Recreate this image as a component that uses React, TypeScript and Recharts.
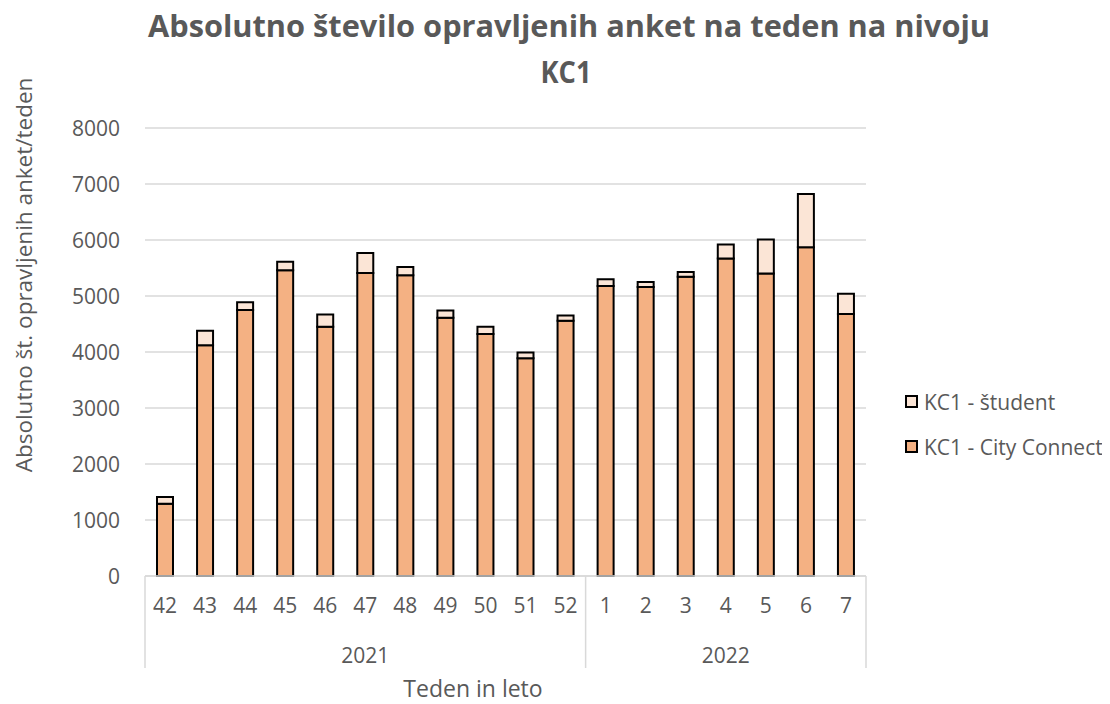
import React from 'react';
import { BarChart, Bar, XAxis, YAxis, CartesianGrid, Legend } from 'recharts';

const weeks = ['42', '43', '44', '45', '46', '47', '48', '49', '50', '51', '52', '1', '2', '3', '4', '5', '6', '7'];
const years = ['2021', '2021', '2021', '2021', '2021', '2021', '2021', '2021', '2021', '2021', '2021', '2022', '2022', '2022', '2022', '2022', '2022', '2022'];
const cityConnect = [1290, 4120, 4750, 5460, 4450, 5410, 5370, 4610, 4320, 3890, 4560, 5180, 5160, 5345, 5670, 5400, 5870, 4680];
const student = [120, 260, 140, 150, 220, 360, 150, 130, 130, 100, 90, 120, 90, 85, 250, 610, 950, 360];
const yTicks = [0, 1000, 2000, 3000, 4000, 5000, 6000, 7000, 8000];
const titleLines = ['Absolutno število opravljenih anket na teden na nivoju', 'KC1'];

const data = weeks.map((w, i) => ({ week: w, year: years[i], city: cityConnect[i], student: student[i] }));

const CHART_W = 1100;
const CHART_H = 700;
const MARGIN = { top: 120, right: 22, bottom: 0, left: 0 };
const Y_AXIS_W = 137;
const LEGEND_W = 220;
const PLOT_W = CHART_W - MARGIN.left - MARGIN.right - Y_AXIS_W - LEGEND_W;
const BAND = PLOT_W / weeks.length;
const TEXT = '#595959';
const FONT = '"Open Sans", "DejaVu Sans", sans-serif';
const GRID = '#d9d9d9';

function WeekTick(props: any) {
  const { x, y, payload, index } = props;
  const half = BAND / 2;
  const els: any[] = [];
  els.push(
    <text key="w" x={x} y={y + 37} textAnchor="middle" fill={TEXT} fontSize={21} fontFamily={FONT}>
      {payload.value}
    </text>
  );
  if (index === 0) {
    els.push(<line key="l0" x1={x - half} x2={x - half} y1={y} y2={y + 92} stroke={GRID} strokeWidth={1.5} />);
  }
  if (index === weeks.length - 1 || years[index + 1] !== years[index]) {
    els.push(<line key="l1" x1={x + half} x2={x + half} y1={y} y2={y + 92} stroke={GRID} strokeWidth={1.5} />);
  }
  if (index === 0 || years[index - 1] !== years[index]) {
    let end = index;
    while (end + 1 < years.length && years[end + 1] === years[index]) end++;
    const cx = x + ((end - index) / 2) * BAND;
    els.push(
      <text key="y" x={cx} y={y + 87} textAnchor="middle" fill={TEXT} fontSize={21} fontFamily={FONT}>
        {years[index]}
      </text>
    );
  }
  return <g>{els}</g>;
}

function YTick(props: any) {
  const { x, y, payload } = props;
  return (
    <text x={x - 23} y={y + 7.5} textAnchor="end" fill={TEXT} fontSize={21} fontFamily={FONT}>
      {payload.value}
    </text>
  );
}

function YLabel() {
  return (
    <text
      x={0}
      y={0}
      transform={`translate(15, 267) rotate(-90)`}
      textAnchor="middle"
      dominantBaseline="central"
      fill={TEXT}
      fontSize={22.5}
      fontFamily={FONT}
    >
      Absolutno št. opravljenih anket/teden
    </text>
  );
}

function XLabel() {
  return (
    <text x={465} y={689} textAnchor="middle" fill={TEXT} fontSize={23} fontFamily={FONT}>
      Teden in leto
    </text>
  );
}

const legendItems = [
  { label: 'KC1 - študent', fill: '#FBE5D6' },
  { label: 'KC1 - City Connect', fill: '#F4B183' },
];

function LegendContent() {
  return (
    <div style={{ paddingLeft: 39 }}>
      {legendItems.map((it) => (
        <div key={it.label} style={{ display: 'flex', alignItems: 'center', height: 45, fontFamily: FONT, fontSize: 21, color: TEXT, whiteSpace: 'nowrap' }}>
          <span style={{ display: 'inline-block', flexShrink: 0, boxSizing: 'border-box', width: 13, height: 13, background: it.fill, border: '2px solid #000', marginRight: 6 }} />
          <span style={{ flexShrink: 0 }}>{it.label}</span>
        </div>
      ))}
    </div>
  );
}

export default function App() {
  return (
    <div style={{ position: 'relative', width: CHART_W, height: CHART_H }}>
      <svg width={CHART_W} height={110} style={{ position: 'absolute', left: 0, top: -8 }}>
        <text x={561} y={37} textAnchor="middle" fill={TEXT} fontFamily={FONT} fontWeight={700} fontSize={30} textLength={842} lengthAdjust="spacingAndGlyphs">
          {titleLines[0]}
        </text>
        <text x={558} y={83} textAnchor="middle" fill={TEXT} fontFamily={FONT} fontWeight={700} fontSize={30} textLength={51} lengthAdjust="spacingAndGlyphs">
          {titleLines[1]}
        </text>
      </svg>
      <BarChart width={CHART_W} height={CHART_H} data={data} margin={MARGIN} barSize={16}>
        <CartesianGrid vertical={false} stroke={GRID} strokeWidth={1.5} />
        <XAxis
          dataKey="week"
          axisLine={{ stroke: GRID, strokeWidth: 1.5 }}
          tickLine={false}
          tickSize={0}
          tickMargin={0}
          height={132}
          interval={0}
          tick={<WeekTick />}
          label={<XLabel />}
        />
        <YAxis
          domain={[0, 8000]}
          ticks={yTicks}
          width={Y_AXIS_W}
          axisLine={false}
          tickLine={false}
          tickSize={0}
          tick={<YTick />}
          label={<YLabel />}
        />
        <Legend
          layout="vertical"
          align="right"
          verticalAlign="top"
          content={<LegendContent />}
          wrapperStyle={{ width: LEGEND_W, top: 371 }}
        />
        <Bar dataKey="city" stackId="a" name="KC1 - City Connect" fill="#F4B183" stroke="#000" strokeWidth={2} isAnimationActive={false} />
        <Bar dataKey="student" stackId="a" name="KC1 - študent" fill="#FBE5D6" stroke="#000" strokeWidth={2} isAnimationActive={false} />
      </BarChart>
    </div>
  );
}
